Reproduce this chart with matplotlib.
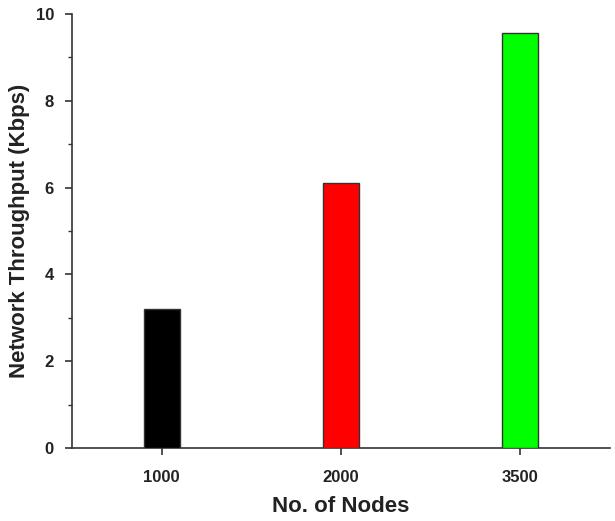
import matplotlib
matplotlib.use("Agg")
import matplotlib.pyplot as plt
from matplotlib.ticker import MultipleLocator

categories = ["1000", "2000", "3500"]
throughput = [3.2, 6.1, 9.57]
colors = ["#000000", "#ff0000", "#00ff00"]

plt.rcParams['font.family'] = ['Liberation Sans', 'DejaVu Sans']
plt.rcParams['font.weight'] = 'bold'

fig = plt.figure(figsize=(6.15, 5.21), dpi=100)
ax = fig.add_axes([0.117, 0.140, 0.875, 0.833])
x = range(len(categories))
ax.bar(x, throughput, width=0.2, color=colors, edgecolor="#333333", linewidth=1.0, zorder=3)
ax.set_xlim(-0.5, 2.5)
ax.set_ylim(0, 10)
ax.set_xticks(list(x))
ax.set_xticklabels(categories)
ax.yaxis.set_major_locator(MultipleLocator(2))
ax.yaxis.set_minor_locator(MultipleLocator(1))
for s in ["top", "right"]:
    ax.spines[s].set_visible(False)
for s in ["left", "bottom"]:
    ax.spines[s].set_linewidth(1.2)
    ax.spines[s].set_color("#333333")
ax.tick_params(axis="both", which="major", direction="out", length=5, width=1.2, labelsize=12, colors="#333333")
ax.tick_params(axis="x", which="major", pad=11)
ax.tick_params(axis="y", which="major", pad=8)
ax.tick_params(axis="y", which="minor", direction="out", length=3, width=1.0, colors="#333333")
ax.tick_params(axis="x", labelcolor="#222222")
ax.tick_params(axis="y", labelcolor="#222222")
ax.set_xlabel("No. of Nodes", fontsize=16, fontweight="bold", color="#222222", labelpad=8)
ax.set_ylabel("Network Throughput (Kbps)", fontsize=16, fontweight="bold", color="#222222", labelpad=4)
fig.savefig("out.png", dpi=100)
